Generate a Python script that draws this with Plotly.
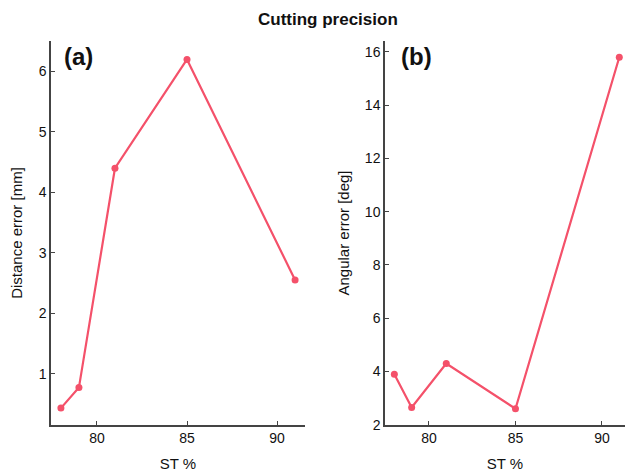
import plotly.graph_objects as go

st = [78, 79, 81, 85, 91]
distance_err = [0.43, 0.77, 4.4, 6.2, 2.55]
angular_err = [3.9, 2.65, 4.3, 2.6, 15.8]
xticks = [80, 85, 90]
yticks_a = [1, 2, 3, 4, 5, 6]
yticks_b = [2, 4, 6, 8, 10, 12, 14, 16]

color = "#f4516a"
font = "Liberation Sans, Arial, sans-serif"

fig = go.Figure()
fig.add_trace(go.Scatter(x=st, y=distance_err, mode="lines+markers",
                         line=dict(color=color, width=2.2), marker=dict(size=7, color=color),
                         xaxis="x", yaxis="y", showlegend=False))
fig.add_trace(go.Scatter(x=st, y=angular_err, mode="lines+markers",
                         line=dict(color=color, width=2.2), marker=dict(size=7, color=color),
                         xaxis="x2", yaxis="y2", showlegend=False, cliponaxis=False))

ax = dict(showgrid=False, zeroline=False, showline=True, linecolor="#444", linewidth=1.5,
          ticks="inside", ticklen=4, tickcolor="#444",
          tickfont=dict(size=14, color="#111", family=font))
ydom = [1 - 432 / 476, 1 - 42 / 476]
fig.update_layout(
    width=625, height=476,
    margin=dict(l=0, r=0, t=0, b=0),
    plot_bgcolor="white", paper_bgcolor="white",
    font=dict(family=font, color="#111"),
    xaxis=dict(ax, domain=[51 / 625, 305 / 625], range=[77.45, 91.55], tickvals=xticks,
               anchor="y", title=dict(text="ST %", font=dict(size=15), standoff=13)),
    yaxis=dict(ax, domain=ydom, range=[0.155, 6.5], tickvals=yticks_a, anchor="x",
               title=dict(text="Distance error [mm]", font=dict(size=15), standoff=12)),
    xaxis2=dict(ax, domain=[385 / 625, 1.0], range=[77.46, 91.33], tickvals=xticks,
                anchor="y2", title=dict(text="ST %", font=dict(size=15), standoff=13)),
    yaxis2=dict(ax, domain=ydom, range=[2, 16.4], tickvals=yticks_b, anchor="x2",
                title=dict(text="Angular error [deg]", font=dict(size=15), standoff=12)),
    annotations=[
        dict(text="<b>Cutting precision</b>", x=328 / 625, y=1 - 20 / 476, xref="paper", yref="paper",
             xanchor="center", yanchor="middle",
             showarrow=False, font=dict(size=17, color="#111")),
        dict(text="<b>(a)</b>", x=62 / 625, y=1 - 57 / 476, xref="paper", yref="paper",
             xanchor="left", yanchor="middle", showarrow=False, font=dict(size=24, color="#111")),
        dict(text="<b>(b)</b>", x=399 / 625, y=1 - 57 / 476, xref="paper", yref="paper",
             xanchor="left", yanchor="middle", showarrow=False, font=dict(size=24, color="#111")),
    ],
)
fig.write_html("out.html")
